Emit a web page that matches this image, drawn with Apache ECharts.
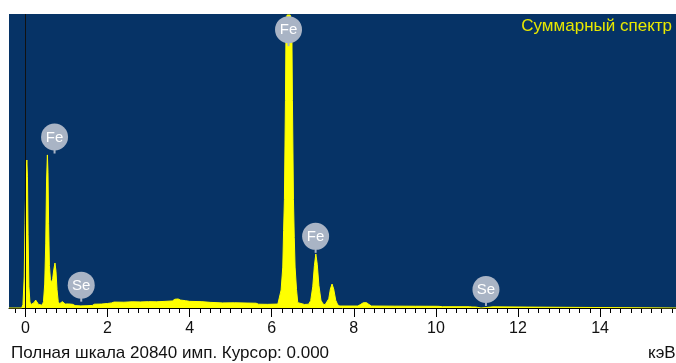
<!DOCTYPE html>
<html>
<head>
<meta charset="utf-8">
<title>Суммарный спектр</title>
<script src="https://cdn.jsdelivr.net/npm/echarts@6.0.0/dist/echarts.min.js"></script>
<style>
  html, body { margin: 0; padding: 0; background: #ffffff; }
  #chart { width: 676px; height: 363px; }
</style>
</head>
<body>
<div id="chart"></div>
<script>
// EDS spectrum: energy (keV) and counts per channel
const energyKeV = [
  -0.40, -0.09, -0.06, -0.03, -0.01, 0.015, 0.035, 0.05, 0.065, 0.085, 0.11, 0.14,
  0.18, 0.21, 0.25, 0.28, 0.32, 0.36, 0.41, 0.44, 0.47, 0.495, 0.515, 0.535,
  0.55, 0.565, 0.585, 0.61, 0.64, 0.665, 0.69, 0.72, 0.745, 0.77, 0.80, 0.83,
  0.87, 0.90, 0.93, 0.97, 1.05, 1.15, 1.21, 1.35, 1.50, 1.63, 1.68, 1.85,
  2.00, 2.10, 2.16, 2.40, 2.60, 2.80, 3.00, 3.20, 3.40, 3.58, 3.64, 3.72,
  3.78, 3.90, 4.00, 4.30, 4.50, 4.80, 5.10, 5.40, 5.62, 5.68, 5.90, 6.15,
  6.19, 6.23, 6.27, 6.29, 6.31, 6.335, 6.35, 6.375, 6.45, 6.49, 6.505, 6.53,
  6.55, 6.57, 6.605, 6.635, 6.66, 6.80, 6.90, 6.95, 7.00, 7.04, 7.075, 7.11,
  7.15, 7.20, 7.25, 7.30, 7.34, 7.39, 7.43, 7.47, 7.51, 7.56, 7.61, 7.66,
  8.10, 8.16, 8.23, 8.31, 8.37, 8.43, 9.00, 9.50, 10.05, 10.10, 10.13, 10.16,
  10.82, 10.85, 10.88, 10.97, 11.00, 11.10, 11.13, 11.39, 11.42, 15.85
];
const counts = [
  0, 0, 250, 2200, 6000, 9600, 10490, 9300, 5200, 1500, 420, 250,
  230, 380, 560, 520, 250, 140, 200, 450, 1700, 4600, 9000, 10850,
  9600, 6000, 3000, 2000, 1800, 2100, 2700, 3190, 2600, 1300, 450, 300,
  380, 450, 330, 280, 290, 260, 170, 150, 160, 180, 270, 280,
  320, 360, 420, 410, 440, 430, 450, 440, 470, 500, 620, 640,
  560, 520, 470, 450, 400, 360, 370, 350, 340, 270, 260, 280,
  420, 1280, 2900, 5500, 7700, 14700, 20300, 20770, 20770, 20300, 14700, 7700,
  5000, 2900, 1300, 380, 270, 250, 270, 520, 1500, 3000, 3830, 3100,
  1600, 550, 280, 230, 300, 650, 1350, 1700, 1350, 550, 220, 140,
  140, 240, 370, 380, 250, 140, 130, 125, 120, 110, 0, 90,
  90, 0, 70, 70, 0, 0, 80, 80, 0, 0
];

// Element line markers
const markerNames = ['Fe', 'Fe', 'Fe', 'Se', 'Se'];
const markerEnergy = [0.71, 6.41, 7.07, 1.36, 11.22];
const markerCounts = [10950, 18560, 3910, 450, 140];

// Axis ticks (keV)
const majorTicks = [0, 2, 4, 6, 8, 10, 12, 14];
const minorTicks = [];
for (let v = -0.25; v <= 15.8; v += 0.25) minorTicks.push(Math.round(v * 100) / 100);

const fullScale = 20840;
const cursorKeV = 0;

const FONT = 'Arial, "Liberation Sans", sans-serif';
const plotBg = '#063366';
const specColor = '#ffff00';
const markerColor = '#a9b4c5';

const spectrum = energyKeV.map((e, i) => [e, counts[i]]);
const markers = markerEnergy.map((e, i) => [e, markerCounts[i]]);

const chart = echarts.init(document.getElementById('chart'), null, { renderer: 'canvas' });

chart.setOption({
  animation: false,
  backgroundColor: '#ffffff',
  grid: {
    left: 9, right: 0, top: 14, bottom: 55,
    show: true, backgroundColor: plotBg, borderWidth: 0
  },
  xAxis: [
    {
      type: 'value', min: -0.4, max: 15.85, position: 'bottom',
      axisLine: { show: true, onZero: false, lineStyle: { color: '#000', width: 1 } },
      axisTick: { show: true, customValues: majorTicks, length: 9, lineStyle: { color: '#000' } },
      axisLabel: {
        show: true, customValues: majorTicks, margin: 13,
        color: '#111', fontSize: 16, fontFamily: FONT
      },
      splitLine: { show: false }
    },
    {
      type: 'value', min: -0.4, max: 15.85, position: 'bottom',
      axisLine: { show: false },
      axisTick: { show: true, customValues: minorTicks, length: 5, lineStyle: { color: '#000' } },
      axisLabel: { show: false },
      splitLine: { show: false }
    }
  ],
  yAxis: { type: 'value', min: 0, max: fullScale, show: false },
  series: [
    {
      type: 'line',
      xAxisIndex: 0,
      data: spectrum,
      symbol: 'none',
      lineStyle: { color: specColor, width: 1 },
      areaStyle: { color: specColor, opacity: 1 },
      z: 2,
      markLine: {
        silent: true,
        symbol: 'none',
        label: { show: false },
        lineStyle: { color: '#111', width: 1, type: 'solid' },
        data: [{ xAxis: cursorKeV }],
        z: 5
      }
    },
    {
      type: 'custom',
      xAxisIndex: 0,
      data: markers,
      z: 10,
      renderItem: function (params, api) {
        const p = api.coord([api.value(0), api.value(1)]);
        const name = markerNames[params.dataIndex];
        return {
          type: 'group',
          children: [
            { type: 'rect', shape: { x: p[0] - 1, y: p[1] - 5, width: 2, height: 5 }, style: { fill: markerColor } },
            { type: 'circle', shape: { cx: p[0], cy: p[1] - 16.5, r: 13.5 }, style: { fill: markerColor } },
            {
              type: 'text',
              style: {
                text: name, x: p[0], y: p[1] - 16, align: 'center', verticalAlign: 'middle',
                fill: '#ffffff', font: '15px ' + FONT
              }
            }
          ]
        };
      }
    }
  ],
  graphic: [
    {
      type: 'text', right: 4, top: 18,
      style: { text: 'Суммарный спектр', fill: '#e8e800', font: '17px ' + FONT }
    },
    {
      type: 'text', left: 11, top: 345,
      style: { text: 'Полная шкала 20840 имп. Курсор: 0.000', fill: '#111', font: '17px ' + FONT }
    },
    {
      type: 'text', left: 648, top: 345,
      style: { text: 'кэВ', fill: '#111', font: '17px ' + FONT }
    }
  ]
});
</script>
</body>
</html>
